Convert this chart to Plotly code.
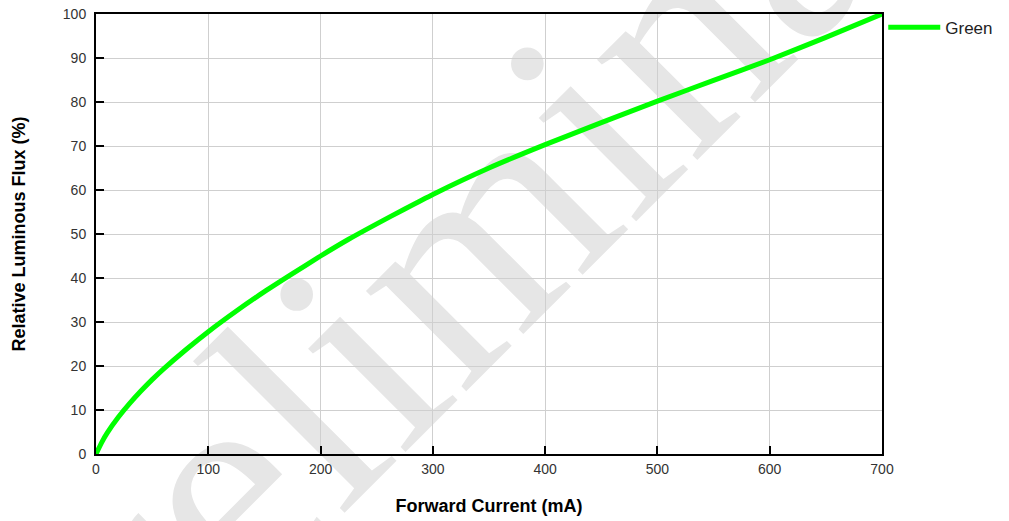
import plotly.graph_objects as go

# Data
forward_current_ma = [0, 5, 10, 20, 30, 40, 50, 60, 80, 100, 125, 150, 175, 200, 225, 250,
                      275, 300, 350, 400, 450, 500, 550, 600, 650, 700]
relative_flux_pct = [0, 2.6, 4.8, 8.4, 11.5, 14.3, 16.9, 19.3, 23.7, 27.8, 32.5, 36.9, 41.0,
                     45.0, 48.8, 52.3, 55.7, 59.0, 65.0, 70.3, 75.3, 80.2, 84.9, 89.6, 94.7, 100]
series_name = "Green"
x_ticks = [0, 100, 200, 300, 400, 500, 600, 700]
y_ticks = [0, 10, 20, 30, 40, 50, 60, 70, 80, 90, 100]
watermark_text = "Preliminary"

fig = go.Figure()
fig.add_trace(go.Scatter(
    x=forward_current_ma, y=relative_flux_pct, mode="lines", name=series_name,
    line=dict(color="#00ff00", width=5, shape="spline", smoothing=0.5),
))

# Watermark drawn below the grid and traces
fig.add_shape(
    type="rect", xref="paper", yref="paper", x0=0.3725, x1=0.5725, y0=0.488, y1=0.688,
    line=dict(width=0), fillcolor="rgba(0,0,0,0)", layer="below",
    label=dict(text=watermark_text, textangle=-45, textposition="middle center",
               font=dict(family="Liberation Serif", size=309, color="#e6e6e6")),
)

axis_common = dict(
    showline=True, linecolor="black", linewidth=2, mirror=True,
    ticks="inside", ticklen=8, tickwidth=2, tickcolor="black",
    showgrid=True, gridcolor="#cfcfcf", gridwidth=1, zeroline=False,
    tickfont=dict(family="Liberation Sans", size=14, color="#333333"),
    title_font=dict(family="Liberation Sans", size=18, color="black", weight="bold"),
)

fig.update_xaxes(range=[0, 700], tickvals=x_ticks, title_text="Forward Current (mA)",
                 title_standoff=24, ticklabelstandoff=1, **axis_common)
fig.update_yaxes(range=[0, 100], tickvals=y_ticks, title_text="Relative Luminous Flux (%)",
                 title_standoff=33, ticklabelstandoff=5, **axis_common)

fig.update_layout(
    width=1009, height=521,
    margin=dict(l=96, r=127, t=14, b=67, autoexpand=False),
    paper_bgcolor="white", plot_bgcolor="rgba(0,0,0,0)",
    showlegend=True,
    legend=dict(x=1.0016, xanchor="left", y=1.01, yanchor="top",
                font=dict(family="Liberation Sans", size=17, color="#222222"),
                itemwidth=52, bgcolor="rgba(0,0,0,0)", borderwidth=0),
)

fig.write_html("out.html")
